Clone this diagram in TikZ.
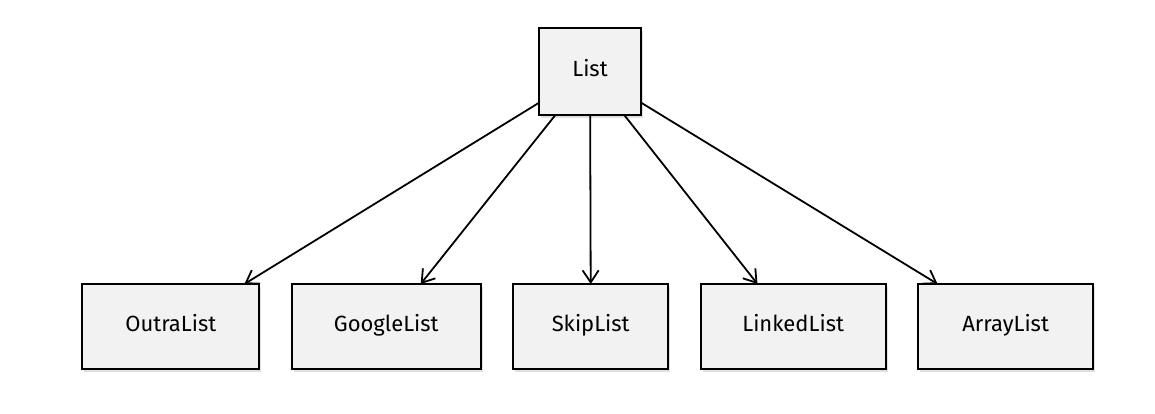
\documentclass[tikz,border=0pt]{standalone}
\usepackage{fontspec}
\setmainfont{Fira Sans}
\usetikzlibrary{matrix,arrows.meta,shadows}
\tikzset{
classbox/.style={
  draw,
  line width=2.2pt,
  fill=gray!10,
  drop shadow={opacity=0.25,shadow xshift=2pt,shadow yshift=-3pt},
  font=\fontsize{22}{26}\selectfont,
  text height=2.5ex,
  text depth=0.75ex,
  minimum height=85pt,
  inner sep=0pt,
  outer sep=0pt
  },
subrow/.style={
  matrix of nodes,
  nodes={classbox},
  column sep=30.25pt,
  inner sep=0pt
  }
}

\begin{document}
\begin{tikzpicture}[x=1pt,y=1pt,>={Straight Barb[length=12pt,width=16pt]}]
            \useasboundingbox (0,0) rectangle (1155,-413);
            \node[classbox,minimum width=102pt,minimum height=87pt] (list) at (590,-71.5) {List};
            \matrix (sub) [subrow,anchor=west] at (81,-326.5)
            {
                |[minimum width=177pt]| OutraList & |[minimum width=189pt]| GoogleList &
                |[minimum width=155pt]| SkipList & |[minimum width=185pt]| LinkedList &
                |[minimum width=175pt]| ArrayList \\
            };
            \foreach \k/\a in {1/30,2/51,3/90,4/130,5/148}
                \draw[->,line width=1.8pt] (list) -- (sub-1-\k.\a);
        \end{tikzpicture}
\end{document}
